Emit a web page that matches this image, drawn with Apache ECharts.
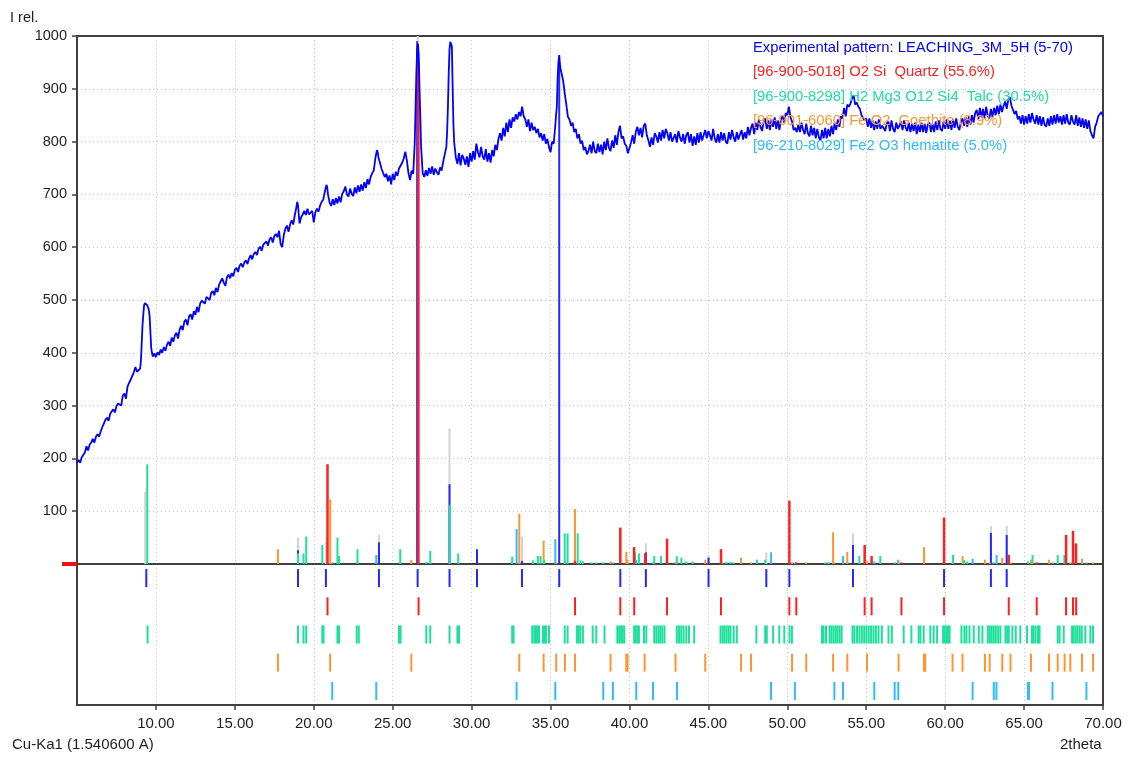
<!DOCTYPE html>
<html>
<head>
<meta charset="utf-8">
<script src="https://cdn.jsdelivr.net/npm/echarts@6/dist/echarts.min.js"></script>
<style>
html,body{margin:0;padding:0;background:#fff;}
#chart{width:1134px;height:757px;}
</style>
</head>
<body>
<div id="chart"></div>
<script>
// ---------- DATA ----------
const xTickValues = [10, 15, 20, 25, 30, 35, 40, 45, 50, 55, 60, 65, 70];
const yTickValues = [100, 200, 300, 400, 500, 600, 700, 800, 900, 1000];

const legendTexts = [
  "Experimental pattern: LEACHING_3M_5H (5-70)",
  "[96-900-5018] O2 Si  Quartz (55.6%)",
  "[96-900-8298] H2 Mg3 O12 Si4  Talc (30.5%)",
  "[96-901-6060] Fe O2  Goethite (8.9%)",
  "[96-210-8029] Fe2 O3 hematite (5.0%)"
];

// experimental pattern [2theta, I rel]
const experimentalPattern = [
[5.0,192],[5.1,197],[5.2,192],[5.3,202],[5.4,205],[5.5,211],[5.6,223],[5.7,215],[5.8,226],[5.9,230],
[6.0,237],[6.1,230],[6.2,241],[6.3,246],[6.4,241],[6.5,251],[6.6,259],[6.7,266],[6.8,273],[6.9,277],
[7.0,271],[7.1,284],[7.2,289],[7.3,293],[7.4,287],[7.5,299],[7.6,304],[7.7,307],[7.8,300],[7.9,319],
[8.0,323],[8.1,313],[8.2,336],[8.3,343],[8.4,349],[8.5,352],[8.6,363],[8.7,373],[8.8,364],[8.9,362],
[9.0,370],[9.05,385],[9.1,418],[9.15,452],[9.2,472],[9.25,490],[9.3,494],[9.35,491],[9.4,494],[9.45,490],
[9.5,486],[9.55,482],[9.6,470],[9.65,440],[9.7,410],[9.75,400],[9.8,393],[9.9,399],[10.0,392],[10.1,401],
[10.2,396],[10.3,406],[10.4,400],[10.5,411],[10.6,404],[10.7,415],[10.8,421],[10.9,413],[11.0,429],[11.1,421],
[11.2,433],[11.3,438],[11.4,427],[11.5,444],[11.6,451],[11.7,443],[11.8,459],[11.9,463],[12.0,452],[12.1,469],
[12.2,473],[12.3,463],[12.4,479],[12.5,472],[12.6,487],[12.7,477],[12.8,493],[12.9,499],[13.0,501],[13.1,493],
[13.2,506],[13.3,509],[13.4,500],[13.5,513],[13.6,517],[13.7,509],[13.8,523],[13.9,515],[14.0,529],[14.1,535],
[14.2,541],[14.3,533],[14.4,527],[14.5,543],[14.6,548],[14.7,541],[14.8,551],[14.9,545],[15.0,557],[15.1,561],
[15.2,553],[15.3,565],[15.4,569],[15.5,562],[15.6,571],[15.7,575],[15.8,568],[15.9,579],[16.0,585],[16.1,577],
[16.2,587],[16.3,591],[16.4,585],[16.5,597],[16.6,601],[16.7,593],[16.8,605],[16.9,607],[17.0,611],[17.1,603],
[17.2,615],[17.3,619],[17.4,609],[17.5,621],[17.6,625],[17.7,619],[17.8,631],[17.9,606],[18.0,600],[18.1,623],
[18.2,635],[18.3,641],[18.4,629],[18.5,643],[18.6,651],[18.7,643],[18.8,661],[18.9,676],[18.95,686],[19.0,680],
[19.05,662],[19.1,645],[19.2,657],[19.3,662],[19.4,669],[19.5,661],[19.6,673],[19.7,662],[19.8,660],[19.9,669],
[20.0,647],[20.1,666],[20.2,673],[20.3,667],[20.4,679],[20.5,686],[20.6,690],[20.7,705],[20.8,718],[20.85,714],
[20.9,700],[21.0,685],[21.1,678],[21.2,691],[21.3,680],[21.4,693],[21.5,683],[21.6,696],[21.7,685],[21.8,701],
[21.9,706],[22.0,715],[22.1,700],[22.2,696],[22.3,711],[22.4,701],[22.5,697],[22.6,713],[22.7,702],[22.8,717],
[22.9,705],[23.0,719],[23.1,707],[23.2,723],[23.3,712],[23.4,729],[23.5,719],[23.6,733],[23.7,740],[23.8,745],
[23.9,768],[24.0,784],[24.05,780],[24.1,770],[24.2,759],[24.3,748],[24.4,740],[24.5,733],[24.6,739],[24.7,725],
[24.8,736],[24.9,719],[25.0,739],[25.1,727],[25.2,743],[25.3,735],[25.4,749],[25.5,752],[25.6,760],[25.7,768],
[25.8,781],[25.9,764],[26.0,740],[26.1,727],[26.2,745],[26.3,739],[26.4,800],[26.45,866],[26.5,930],[26.55,973],
[26.6,985],[26.65,964],[26.7,900],[26.75,847],[26.8,790],[26.85,765],[26.9,740],[27.0,733],[27.1,746],[27.2,735],
[27.3,750],[27.4,739],[27.5,753],[27.6,737],[27.7,749],[27.8,742],[27.9,737],[28.0,751],[28.1,745],[28.2,762],
[28.3,759],[28.4,790],[28.45,820],[28.5,866],[28.55,930],[28.6,975],[28.65,989],[28.7,985],[28.75,980],[28.8,900],
[28.85,830],[28.9,797],[29.0,770],[29.1,758],[29.2,778],[29.3,755],[29.4,775],[29.5,768],[29.6,756],[29.7,772],
[29.8,752],[29.9,778],[30.0,762],[30.1,782],[30.2,766],[30.3,796],[30.4,780],[30.5,770],[30.6,790],[30.7,772],
[30.8,766],[30.9,786],[31.0,762],[31.1,778],[31.2,760],[31.3,784],[31.4,772],[31.5,794],[31.6,784],[31.7,805],
[31.8,816],[31.9,802],[32.0,826],[32.1,810],[32.2,836],[32.3,818],[32.4,842],[32.5,826],[32.6,846],[32.7,838],
[32.8,852],[32.9,842],[33.0,856],[33.1,848],[33.2,866],[33.3,848],[33.4,842],[33.5,828],[33.6,842],[33.7,820],
[33.8,836],[33.9,822],[34.0,828],[34.1,816],[34.2,824],[34.3,808],[34.4,816],[34.5,802],[34.6,814],[34.7,796],
[34.8,805],[34.9,790],[35.0,780],[35.1,800],[35.2,796],[35.3,830],[35.35,850],[35.4,866],[35.45,920],[35.5,950],
[35.55,964],[35.6,945],[35.65,935],[35.7,929],[35.8,915],[35.9,891],[36.0,870],[36.1,847],[36.2,842],[36.3,830],
[36.4,836],[36.5,818],[36.6,824],[36.7,806],[36.8,814],[36.9,796],[37.0,802],[37.1,784],[37.2,790],[37.3,776],
[37.4,782],[37.5,794],[37.6,778],[37.7,800],[37.8,782],[37.9,778],[38.0,796],[38.1,780],[38.2,794],[38.3,776],
[38.4,800],[38.5,784],[38.6,806],[38.7,788],[38.8,782],[38.9,802],[39.0,788],[39.1,812],[39.2,794],[39.3,818],
[39.4,830],[39.5,806],[39.6,810],[39.7,796],[39.8,792],[39.9,778],[40.0,776],[40.1,798],[40.2,812],[40.3,796],
[40.4,818],[40.5,828],[40.6,812],[40.7,826],[40.8,808],[40.9,830],[41.0,834],[41.1,812],[41.2,802],[41.3,790],
[41.4,808],[41.5,794],[41.6,816],[41.7,810],[41.8,798],[41.9,818],[42.0,802],[42.1,822],[42.2,806],[42.3,824],
[42.4,816],[42.5,802],[42.6,818],[42.7,800],[42.8,798],[42.9,814],[43.0,798],[43.1,820],[43.2,808],[43.3,800],
[43.4,814],[43.5,796],[43.6,812],[43.7,818],[43.8,798],[43.9,814],[44.0,792],[44.1,810],[44.2,794],[44.3,816],
[44.4,798],[44.5,818],[44.6,802],[44.7,812],[44.8,822],[44.9,806],[45.0,820],[45.1,812],[45.2,802],[45.3,824],
[45.4,806],[45.5,798],[45.6,814],[45.7,798],[45.8,818],[45.9,802],[46.0,816],[46.1,800],[46.2,796],[46.3,818],
[46.4,804],[46.5,822],[46.6,808],[46.7,800],[46.8,818],[46.9,804],[47.0,814],[47.1,822],[47.2,804],[47.3,818],
[47.4,806],[47.5,828],[47.6,812],[47.7,826],[47.8,834],[47.9,814],[48.0,836],[48.1,822],[48.2,842],[48.3,828],
[48.4,820],[48.5,838],[48.6,844],[48.7,824],[48.8,840],[48.9,822],[49.0,842],[49.1,828],[49.2,846],[49.3,824],
[49.4,840],[49.5,822],[49.6,842],[49.7,848],[49.8,836],[49.9,854],[50.0,850],[50.1,866],[50.2,846],[50.3,838],
[50.4,822],[50.5,826],[50.6,818],[50.7,832],[50.8,818],[50.9,836],[51.0,822],[51.1,814],[51.2,834],[51.3,816],
[51.4,810],[51.5,830],[51.6,812],[51.7,826],[51.8,806],[51.9,824],[52.0,808],[52.1,802],[52.2,822],[52.3,806],
[52.4,826],[52.5,806],[52.6,824],[52.7,810],[52.8,830],[52.9,814],[53.0,836],[53.1,822],[53.2,842],[53.3,828],
[53.4,848],[53.5,844],[53.6,864],[53.7,848],[53.8,870],[53.9,866],[54.0,872],[54.1,882],[54.2,888],[54.3,870],
[54.4,874],[54.5,866],[54.6,862],[54.7,850],[54.8,852],[54.9,840],[55.0,844],[55.1,828],[55.2,844],[55.3,826],
[55.4,840],[55.5,822],[55.6,838],[55.7,824],[55.8,842],[55.9,824],[56.0,830],[56.1,826],[56.2,820],[56.3,834],
[56.4,838],[56.5,820],[56.6,840],[56.7,824],[56.8,818],[56.9,836],[57.0,824],[57.1,830],[57.2,838],[57.3,822],
[57.4,840],[57.5,826],[57.6,820],[57.7,836],[57.8,818],[57.9,834],[58.0,820],[58.1,836],[58.2,814],[58.3,832],
[58.4,818],[58.5,836],[58.6,818],[58.7,834],[58.8,816],[58.9,832],[59.0,836],[59.1,818],[59.2,834],[59.3,818],
[59.4,838],[59.5,822],[59.6,840],[59.7,824],[59.8,820],[59.9,838],[60.0,824],[60.1,842],[60.2,824],[60.3,840],
[60.4,822],[60.5,842],[60.6,826],[60.7,844],[60.8,828],[60.9,822],[61.0,838],[61.1,844],[61.2,830],[61.3,846],
[61.4,828],[61.5,848],[61.6,832],[61.7,850],[61.8,836],[61.9,854],[62.0,860],[62.1,842],[62.2,864],[62.3,846],
[62.4,862],[62.5,844],[62.6,866],[62.7,848],[62.8,844],[62.9,862],[63.0,846],[63.1,864],[63.2,850],[63.3,868],
[63.4,852],[63.5,870],[63.6,856],[63.7,868],[63.8,876],[63.9,862],[64.0,880],[64.1,884],[64.2,868],[64.3,870],
[64.4,852],[64.5,858],[64.6,842],[64.7,848],[64.8,834],[64.9,850],[65.0,832],[65.1,848],[65.2,834],[65.3,852],
[65.4,836],[65.5,854],[65.6,842],[65.7,834],[65.8,850],[65.9,832],[66.0,848],[66.1,830],[66.2,846],[66.3,832],
[66.4,828],[66.5,844],[66.6,830],[66.7,848],[66.8,832],[66.9,850],[67.0,834],[67.1,852],[67.2,836],[67.3,848],
[67.4,832],[67.5,850],[67.6,834],[67.7,852],[67.8,836],[67.9,832],[68.0,850],[68.1,838],[68.2,832],[68.3,850],
[68.4,830],[68.5,846],[68.6,828],[68.7,844],[68.8,826],[68.9,842],[69.0,824],[69.1,840],[69.2,820],[69.3,812],
[69.4,806],[69.5,828],[69.6,836],[69.7,848],[69.8,846],[69.9,856],[70.0,848]
];

// reference sticks [2theta, I rel]
const calculatedSticks = [[9.32,137],[19.0,50],[20.77,42],[24.13,55],[26.58,1000],[28.6,257],[33.19,52],[41.04,39],[45.01,17],[48.67,22],[54.16,58],[62.9,72],[63.9,72]];
const peakSticks = [[19.0,26],[24.13,41],[26.55,990],[28.6,151],[30.34,28],[33.19,6],[35.55,950],[41.04,22],[45.01,12],[54.16,36],[62.9,59],[63.9,55]];
const quartzSticks = [[20.87,189],[26.63,950],[36.55,6],[39.42,69],[40.29,32],[41.0,20],[42.38,48],[45.8,28],[50.13,120],[50.57,3],[54.9,36],[55.34,15],[57.23,3],[59.93,88],[64.03,17],[65.8,3],[67.66,55],[68.1,63],[68.29,39]];
const talcSticks = [[9.45,189],[19.0,20],[19.35,20],[19.52,52],[20.54,36],[21.5,50],[21.6,15],[22.77,28],[25.48,28],[27.13,4],[27.38,25],[28.62,112],[29.15,20],[32.57,14],[33.88,7],[34.2,15],[34.37,15],[34.6,8],[35.9,58],[36.08,58],[36.72,58],[36.9,7],[37.05,5],[37.6,3],[37.9,3],[40.35,22],[40.6,20],[41.57,15],[42.0,15],[43.0,15],[43.29,12],[43.6,5],[44.0,5],[45.9,3],[46.15,4],[46.4,4],[46.6,3],[48.08,8],[48.6,8],[52.4,3],[52.6,3],[54.56,15],[55.89,15],[60.5,17],[61.2,8],[61.4,5],[65.54,17],[67.13,17],[67.55,17]];
const goethiteSticks = [[17.73,28],[21.04,122],[26.18,8],[33.02,95],[34.56,44],[35.36,3],[35.91,6],[36.55,104],[38.8,5],[39.8,23],[39.88,8],[40.96,5],[42.92,4],[44.8,8],[47.07,12],[47.7,3],[50.3,3],[51.2,3],[52.9,60],[53.8,23],[55.05,5],[57.05,3],[58.66,32],[60.47,5],[61.1,15],[62.52,8],[62.82,3],[63.62,12],[64.14,3],[65.44,8],[66.58,8],[67.13,3],[67.93,3],[68.67,10],[69.37,3]];
const hematiteSticks = [[21.17,3],[23.96,17],[32.85,66],[35.3,47],[38.34,3],[38.95,3],[40.43,8],[41.49,3],[43.01,3],[48.97,22],[50.48,3],[52.98,3],[53.53,15],[55.51,5],[56.8,3],[57.03,8],[61.74,10],[63.08,3],[63.26,17],[65.25,5],[66.8,3],[68.95,3]];

// peak position markers (rows below the pattern)
const peakPositions = [9.39,19.0,20.77,24.13,26.58,28.6,30.34,33.19,35.55,39.42,41.04,45.01,48.67,50.13,54.16,59.93,62.9,63.9];
const quartzPositions = [20.87,26.64,36.55,39.42,40.3,42.38,45.8,50.13,50.57,54.9,55.34,57.23,59.93,64.03,65.8,67.66,68.1,68.3];
const talcPositions = [9.47,19.0,19.35,19.52,20.54,20.62,21.5,21.6,22.72,22.85,25.4,25.5,27.13,27.38,28.6,29.1,29.2,
 32.57,32.66,33.84,33.97,34.05,34.14,34.27,34.52,34.63,34.71,34.9,35.9,36.08,36.67,36.77,36.88,37.05,37.67,37.9,38.42,
 39.23,39.35,39.47,39.56,39.67,40.3,40.39,40.5,40.6,40.92,41.07,41.57,41.7,41.83,41.95,42.08,42.22,
 43.0,43.14,43.28,43.43,43.6,43.77,44.1,45.77,45.9,46.02,46.15,46.28,46.4,46.6,46.8,48.04,48.6,48.7,49.1,49.49,49.81,50.14,50.29,
 52.2,52.3,52.45,52.68,52.8,52.93,53.06,53.18,53.31,53.44,
 54.13,54.25,54.42,54.57,54.72,54.87,55.01,55.16,55.31,55.46,55.61,55.78,55.99,56.41,56.62,
 57.37,57.86,58.32,58.43,58.64,59.06,59.27,59.49,59.87,59.97,60.08,60.18,60.28,
 61.03,61.22,61.35,61.54,61.81,62.13,62.36,62.7,62.83,62.95,63.08,63.21,63.36,63.5,63.82,63.93,64.03,64.26,64.47,64.76,
 65.19,65.5,65.6,65.73,65.88,65.98,67.13,67.25,67.51,68.04,68.14,68.27,68.39,68.52,68.65,68.88,69.2,69.37];
const goethitePositions = [17.73,21.04,26.18,33.02,34.56,35.36,35.91,36.55,38.8,39.8,39.88,40.96,42.92,44.8,47.07,47.7,
 50.3,51.2,52.9,53.8,55.05,57.05,58.66,58.74,60.47,61.1,62.52,62.82,63.62,64.14,65.44,66.58,67.13,67.57,67.93,68.67,69.37];
const hematitePositions = [21.17,23.96,32.85,35.3,38.34,38.95,40.43,41.49,43.01,48.97,50.48,52.98,53.53,55.51,56.8,57.03,
 61.74,63.08,63.25,65.25,65.31,66.8,68.95];

// ---------- STYLE ----------
const C_EXP = '#0000ff', C_PEAK = '#2626ff', C_QTZ = '#ff2020', C_TALC = '#1ee09c',
      C_GOE = '#ff9530', C_HEM = '#2ebcff', C_CALC = '#d2d2d2';
const AXIS = '#404040', GRIDC = '#c9c9c9', TXT = '#1e1e1e';
const FONT = '"Liberation Sans", Arial, sans-serif';

const chart = echarts.init(document.getElementById('chart'), null, {renderer: 'canvas'});

function stickSeries(data, color, w) {
  return {
    type: 'custom', xAxisIndex: 0, yAxisIndex: 0, silent: true, clip: true,
    data: data,
    renderItem: function (params, api) {
      const x = api.value(0), h = api.value(1);
      const p0 = api.coord([x, 0]), p1 = api.coord([x, h]);
      return {type: 'line', shape: {x1: p0[0], y1: p0[1], x2: p1[0], y2: p1[1]},
              style: {stroke: color, lineWidth: w}};
    }
  };
}
function rowSeries(positions, row, color) {
  return {
    type: 'custom', xAxisIndex: 1, yAxisIndex: 1, silent: true, clip: true,
    data: positions.map(v => [v, row]),
    renderItem: function (params, api) {
      const x = api.value(0), r = api.value(1);
      const p0 = api.coord([x, r + 0.18]), p1 = api.coord([x, r + 0.82]);
      return {type: 'line', shape: {x1: p0[0], y1: p0[1], x2: p1[0], y2: p1[1]},
              style: {stroke: color, lineWidth: 2}};
    }
  };
}

const legendColors = [C_EXP, C_QTZ, C_TALC, C_GOE, C_HEM];
const dotted = {color: GRIDC, type: [1, 3], width: 1};
const frame = {show: true, onZero: false, lineStyle: {color: AXIS, width: 2}};

const option = {
  animation: false,
  backgroundColor: '#fff',
  grid: [
    {left: 77, top: 36, width: 1026, height: 528},
    {left: 77, top: 564, width: 1026, height: 141}
  ],
  xAxis: [
    {type: 'value', gridIndex: 0, min: 5, max: 70, interval: 5,
     axisLine: frame,
     axisTick: {show: false}, axisLabel: {show: false},
     splitLine: {show: true, lineStyle: dotted}},
    {type: 'value', gridIndex: 1, min: 5, max: 70, interval: 5, position: 'bottom',
     axisLine: frame,
     axisTick: {show: true, length: 5, lineStyle: {color: AXIS, width: 1.5}},
     axisLabel: {show: true, showMinLabel: false, color: TXT, fontSize: 15, fontFamily: FONT, margin: 11,
                 formatter: v => xTickValues.indexOf(v) >= 0 ? v.toFixed(2) : ''},
     splitLine: {show: true, lineStyle: dotted}},
    // top frame line of the plot
    {type: 'value', gridIndex: 0, position: 'top', min: 5, max: 70,
     axisLine: frame, axisTick: {show: false}, axisLabel: {show: false}, splitLine: {show: false}}
  ],
  yAxis: [
    {type: 'value', gridIndex: 0, min: 0, max: 1000, interval: 100,
     axisLine: frame,
     axisTick: {show: true, length: 5, lineStyle: {color: AXIS, width: 1.5}},
     axisLabel: {show: true, color: TXT, fontSize: 14.5, fontFamily: FONT, margin: 10,
                 formatter: v => yTickValues.indexOf(v) >= 0 ? String(v) : ''},
     splitLine: {show: true, lineStyle: dotted}},
    {type: 'value', gridIndex: 1, min: 0, max: 5, inverse: true,
     axisLine: frame, axisTick: {show: false}, axisLabel: {show: false}, splitLine: {show: false}},
    // right frame lines
    {type: 'value', gridIndex: 0, position: 'right', min: 0, max: 1000,
     axisLine: frame, axisTick: {show: false}, axisLabel: {show: false}, splitLine: {show: false}},
    {type: 'value', gridIndex: 1, position: 'right', min: 0, max: 5,
     axisLine: frame, axisTick: {show: false}, axisLabel: {show: false}, splitLine: {show: false}}
  ],
  series: [
    stickSeries(calculatedSticks, C_CALC, 2),
    stickSeries(peakSticks, C_PEAK, 2),
    stickSeries(hematiteSticks, C_HEM, 2),
    stickSeries(goethiteSticks, C_GOE, 2),
    stickSeries(talcSticks, C_TALC, 2),
    stickSeries(quartzSticks, C_QTZ, 2.5),
    {type: 'line', xAxisIndex: 0, yAxisIndex: 0, data: experimentalPattern, showSymbol: false,
     symbol: 'none', lineStyle: {color: C_EXP, width: 1.8}, silent: true, z: 3, clip: true},
    rowSeries(peakPositions, 0, C_PEAK),
    rowSeries(quartzPositions, 1, C_QTZ),
    rowSeries(talcPositions, 2, C_TALC),
    rowSeries(goethitePositions, 3, C_GOE),
    rowSeries(hematitePositions, 4, C_HEM)
  ],
  graphic: [
    {type: 'text', left: 10, top: 10, style: {text: 'I rel.', fill: TXT, font: '14.5px ' + FONT}},
    {type: 'text', left: 12, top: 737, style: {text: 'Cu-Ka1 (1.540600 A)', fill: TXT, font: '15px ' + FONT}},
    {type: 'text', left: 1060, top: 737, style: {text: '2theta', fill: TXT, font: '15px ' + FONT}}
  ].concat(legendTexts.map((t, i) => ({
    type: 'text', left: 753, top: 40 + i * 24.5, z: 100,
    style: {text: t, fill: legendColors[i], font: '14.8px ' + FONT}
  })))
};
chart.setOption(option);

// red zero marker on the intensity axis
const z0 = chart.convertToPixel({xAxisIndex: 0, yAxisIndex: 0}, [5, 0]);
chart.setOption({graphic: option.graphic.concat([
  {type: 'rect', shape: {x: z0[0] - 15, y: z0[1] - 2, width: 15, height: 4}, style: {fill: '#ee1111'}, z: 100}
])});
</script>
</body>
</html>
